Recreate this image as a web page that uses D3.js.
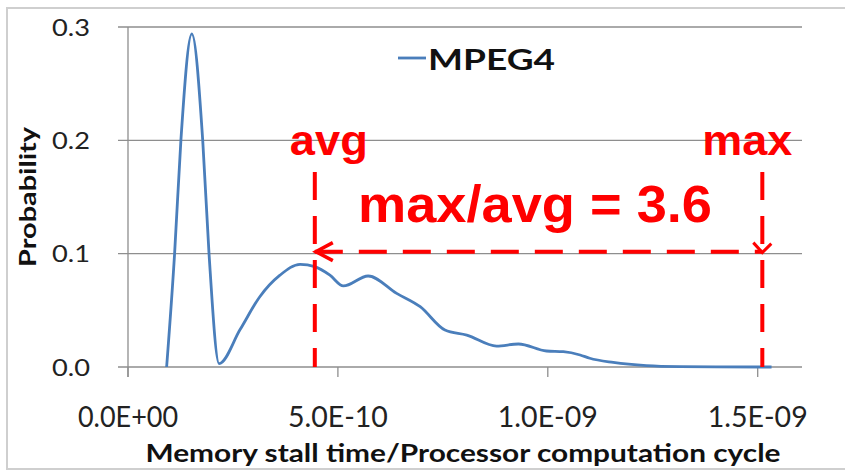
<!DOCTYPE html>
<html><head><meta charset="utf-8">
<script src="https://cdn.jsdelivr.net/npm/d3@7"></script>
<style>html,body{margin:0;padding:0;background:#fff;}svg{display:block;}</style>
</head><body>
<svg id="chart" width="845" height="471"></svg>
<script>
// ---- data (x: memory stall time / processor computation cycle, y: probability) ----
const xValues = [0.92e-10,1.11e-10,1.26e-10,1.52e-10,1.78e-10,1.93e-10,2.17e-10,2.67e-10,3.14e-10,3.62e-10,4.10e-10,4.45e-10,4.81e-10,5.13e-10,5.72e-10,6.40e-10,6.96e-10,7.55e-10,8.07e-10,8.78e-10,9.30e-10,9.97e-10,10.37e-10,10.77e-10,11.0e-10,11.56e-10,12.35e-10,13.15e-10,14.0e-10,15.33e-10];
const probValues = [0,0.1,0.2,0.294,0.2,0.1,0.003,0.033,0.062,0.081,0.0906,0.0885,0.081,0.0715,0.0803,0.065,0.0532,0.0326,0.0282,0.0185,0.0203,0.0141,0.0135,0.0106,0.0077,0.004,0.0012,0.0003,0.0001,0];
const seriesName = "MPEG4";
const xTicks = [0, 5e-10, 1e-9, 1.5e-9];
const xTickLabels = ["0.0E+00","5.0E-10","1.0E-09","1.5E-09"];
const yTicks = [0, 0.1, 0.2, 0.3];
const yTickLabels = ["0.0","0.1","0.2","0.3"];
const avgValue = 4.45e-10;
const maxValue = 1.511e-9;
const arrowLevel = 0.1018;
const markerTop = 0.172;
const annotationTexts = ["avg","max","max/avg = 3.6"];
const xTitle = "Memory stall time/Processor computation cycle";
const yTitle = "Probability";

const svg = d3.select("#chart");
const x = d3.scaleLinear().domain([0,1.5e-9]).range([128,757.7]);
const y = d3.scaleLinear().domain([0,0.3]).range([367,27]);
const calib = "Lato, 'Open Sans', 'Liberation Sans', sans-serif";
const arial = "'Liberation Sans', Arial, sans-serif";
const red = "#ff0000";

// outer frame
svg.append("rect").attr("x",7).attr("y",8).attr("width",850).attr("height",461)
  .attr("fill","none").attr("stroke","#cfcfcf").attr("stroke-width",2);

// gridlines
svg.append("g").selectAll("line").data(yTicks).join("line")
  .attr("x1",118).attr("x2",802).attr("y1",d=>y(d)).attr("y2",d=>y(d))
  .attr("stroke","#8e8e8e").attr("stroke-width",1.3);
// left axis
svg.append("line").attr("x1",x(0)).attr("x2",x(0)).attr("y1",y(0.3)).attr("y2",y(0)+10)
  .attr("stroke","#8e8e8e").attr("stroke-width",1.3);
// x ticks
svg.append("g").selectAll("line").data(xTicks).join("line")
  .attr("x1",d=>x(d)).attr("x2",d=>x(d)).attr("y1",y(0)).attr("y2",y(0)+10)
  .attr("stroke","#8e8e8e").attr("stroke-width",1.3);

// y tick labels
svg.append("g").selectAll("text").data(yTicks).join("text")
  .attr("x",90).attr("y",d=>y(d)+8.5).attr("text-anchor","end")
  .attr("font-family",calib).attr("font-size",24).attr("fill","#222")
  .attr("textLength",38).attr("lengthAdjust","spacingAndGlyphs")
  .text((d,i)=>yTickLabels[i]);
// x tick labels
svg.append("g").selectAll("text").data(xTicks).join("text")
  .attr("x",d=>x(d)).attr("y",427).attr("text-anchor","middle")
  .attr("font-family",calib).attr("font-size",28).attr("fill","#222")
  .attr("textLength",100).attr("lengthAdjust","spacingAndGlyphs")
  .text((d,i)=>xTickLabels[i]);

// axis titles
svg.append("text").attr("x",463).attr("y",462).attr("text-anchor","middle")
  .attr("font-family",calib).attr("font-weight","bold").attr("font-size",24).attr("fill","#111")
  .attr("textLength",635).attr("lengthAdjust","spacingAndGlyphs").text(xTitle);
svg.append("text").attr("transform","translate(36,197) rotate(-90)").attr("text-anchor","middle")
  .attr("font-family",calib).attr("font-weight","bold").attr("font-size",23).attr("fill","#111")
  .attr("textLength",140).attr("lengthAdjust","spacingAndGlyphs").text(yTitle);

// series line
const pts = xValues.map((v,i)=>[v,probValues[i]]);
svg.append("path").datum(pts)
  .attr("d",d3.line().x(d=>x(d[0])).y(d=>y(d[1])).curve(d3.curveMonotoneX))
  .attr("fill","none").attr("stroke","#4a7ebb").attr("stroke-width",2.8).attr("stroke-linejoin","round");

// legend
svg.append("line").attr("x1",398).attr("x2",426).attr("y1",58).attr("y2",58)
  .attr("stroke","#4a7ebb").attr("stroke-width",2.8);
svg.append("text").attr("x",428).attr("y",70)
  .attr("font-family",calib).attr("font-weight","bold").attr("font-size",29).attr("fill","#111")
  .attr("textLength",127).attr("lengthAdjust","spacingAndGlyphs").text(seriesName);

// annotations
const ann = svg.append("g").attr("stroke",red).attr("fill","none").attr("stroke-width",4);
[avgValue,maxValue].forEach(v=>{
  ann.append("line").attr("x1",x(v)).attr("x2",x(v)).attr("y1",y(markerTop)).attr("y2",y(0))
    .attr("stroke-dasharray","28,16");
});
ann.append("line").attr("x1",x(avgValue)).attr("x2",x(maxValue)).attr("y1",y(arrowLevel)).attr("y2",y(arrowLevel))
  .attr("stroke-dasharray","28,16");
// left arrowhead
ann.append("path").attr("d",`M${x(avgValue)+18},${y(arrowLevel)-9} L${x(avgValue)+1},${y(arrowLevel)} L${x(avgValue)+18},${y(arrowLevel)+9}`)
  .attr("stroke-width",3.5);
// right chevron
ann.append("path").attr("d",`M${x(maxValue)-9},${y(arrowLevel)-9} L${x(maxValue)},${y(arrowLevel)+1} L${x(maxValue)+9},${y(arrowLevel)-8}`)
  .attr("stroke-width",3);

const tg = svg.append("g").attr("fill",red).attr("font-family",arial).attr("font-weight","bold").attr("text-anchor","middle");
tg.append("text").attr("x",x(avgValue)+14).attr("y",155).attr("font-size",43)
  .attr("textLength",78).attr("lengthAdjust","spacingAndGlyphs").text(annotationTexts[0]);
tg.append("text").attr("x",x(maxValue)-15).attr("y",155).attr("font-size",43)
  .attr("textLength",90).attr("lengthAdjust","spacingAndGlyphs").text(annotationTexts[1]);
tg.append("text").attr("x",535).attr("y",222).attr("font-size",52)
  .attr("textLength",354).attr("lengthAdjust","spacingAndGlyphs").text(annotationTexts[2]);
</script>
</body></html>
